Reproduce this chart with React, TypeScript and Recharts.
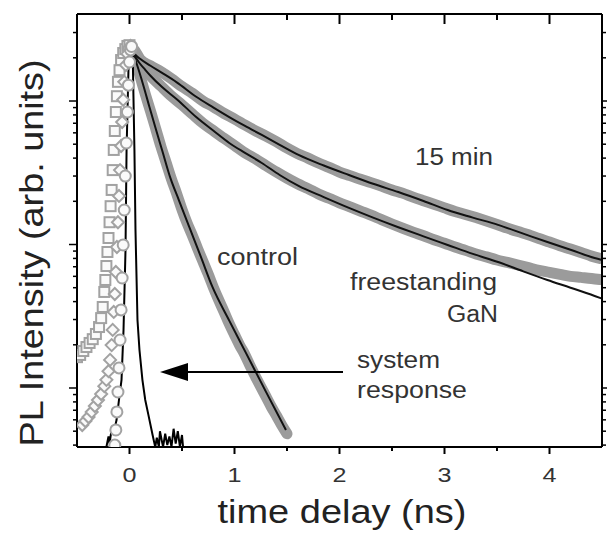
import React from 'react';
import { LineChart, Line, XAxis, YAxis } from 'recharts';

// [time (ns), PL intensity (arb.)]
const min15Data = [
  [-0.5, 1.64], [-0.47, 1.7], [-0.44, 1.81], [-0.41, 1.93], [-0.38, 2.06], [-0.35, 2.19],
  [-0.32, 2.38], [-0.29, 2.66], [-0.27, 3.07], [-0.255, 3.67], [-0.24, 4.67], [-0.23, 5.66],
  [-0.22, 7.08], [-0.21, 8.87], [-0.2, 11.1], [-0.19, 14.3], [-0.18, 18.5], [-0.17, 24],
  [-0.16, 33], [-0.15, 45.6], [-0.14, 61.8], [-0.13, 83.8], [-0.12, 108], [-0.11, 136],
  [-0.095, 164], [-0.08, 193], [-0.06, 216], [-0.04, 230], [-0.02, 242], [0, 245],
  [0.05, 225], [0.1, 196], [0.2, 176], [0.3, 160], [0.4, 143], [0.5, 126], [0.6, 113],
  [0.7, 100], [0.8, 91], [0.9, 82], [1.0, 75], [1.1, 68], [1.2, 62], [1.3, 57], [1.4, 52],
  [1.5, 47], [1.6, 43], [1.7, 40], [1.8, 37], [1.9, 34.5], [2.0, 32], [2.1, 30.2], [2.2, 28.5],
  [2.3, 27], [2.4, 25.5], [2.5, 24], [2.6, 22.8], [2.7, 21.4], [2.8, 20.2], [2.9, 19.1],
  [3.0, 18], [3.1, 17], [3.2, 16.2], [3.3, 15.4], [3.4, 14.6], [3.5, 13.8], [3.6, 13],
  [3.7, 12.3], [3.8, 11.7], [3.9, 11], [4.0, 10.4], [4.1, 9.8], [4.2, 9.3], [4.3, 8.8],
  [4.4, 8.3], [4.48, 8.0],
];

const ganData = [
  [-0.45, 0.552], [-0.42, 0.589], [-0.39, 0.628], [-0.36, 0.681], [-0.33, 0.749], [-0.3, 0.825],
  [-0.27, 0.908], [-0.24, 1.03], [-0.22, 1.14], [-0.2, 1.31], [-0.185, 1.57], [-0.17, 1.99],
  [-0.16, 2.54], [-0.15, 3.39], [-0.14, 4.52], [-0.13, 6.43], [-0.12, 9.61], [-0.11, 14.3],
  [-0.1, 21.8], [-0.09, 33], [-0.08, 48.6], [-0.07, 71.4], [-0.06, 102], [-0.05, 136],
  [-0.035, 178], [-0.02, 213], [-0.005, 234], [0.01, 242],
  [0.05, 220], [0.1, 188], [0.15, 166], [0.2, 150], [0.3, 127], [0.4, 108], [0.5, 94],
  [0.6, 81], [0.7, 70], [0.8, 62], [0.9, 55], [1.0, 49], [1.1, 43.5], [1.2, 39.5], [1.3, 35.5],
  [1.4, 32], [1.5, 29], [1.6, 26.5], [1.7, 24.5], [1.8, 22.5], [1.9, 21], [2.0, 19.5],
  [2.1, 18.3], [2.2, 17.1], [2.3, 16], [2.4, 14.9], [2.5, 13.9], [2.6, 13], [2.7, 12.2],
  [2.8, 11.5], [2.9, 10.8], [3.0, 10.2], [3.1, 9.6], [3.2, 9.1], [3.3, 8.6], [3.4, 8.2],
  [3.5, 7.8], [3.6, 7.5], [3.7, 7.2], [3.8, 6.9], [3.9, 6.6], [4.0, 6.4], [4.1, 6.2],
  [4.2, 6.0], [4.3, 5.9], [4.4, 5.8], [4.48, 5.7],
];

const controlData = [
  [-0.14, 0.4], [-0.13, 0.51], [-0.12, 0.681], [-0.11, 0.938], [-0.1, 1.38], [-0.09, 2.16],
  [-0.08, 3.5], [-0.07, 5.84], [-0.06, 9.93], [-0.05, 17.4], [-0.04, 30], [-0.03, 51],
  [-0.02, 83.8], [-0.01, 129], [0, 187], [0.01, 227], [0.02, 240],
  [0.05, 205], [0.1, 150], [0.15, 112], [0.2, 85], [0.25, 64], [0.3, 48], [0.35, 37],
  [0.4, 28.5], [0.45, 22.5], [0.5, 17.5], [0.55, 14], [0.6, 11.5], [0.65, 9.3], [0.7, 7.6],
  [0.75, 6.2], [0.8, 5.0], [0.85, 4.1], [0.9, 3.4], [0.95, 2.8], [1.0, 2.35], [1.05, 1.98],
  [1.1, 1.7], [1.15, 1.42], [1.2, 1.2], [1.25, 1.02], [1.3, 0.87], [1.35, 0.74], [1.4, 0.64],
  [1.45, 0.55], [1.5, 0.48],
];

const min15Fit = [
  [0.03, 219], [0.1, 197], [0.2, 176], [0.31, 157], [0.45, 135], [0.635, 107], [0.8, 90],
  [0.95, 77.3], [1.1, 67], [1.26, 58], [1.43, 49.5], [1.61, 42.1], [1.85, 35.5], [2.09, 30.5],
  [2.32, 26.5], [2.56, 23.2], [2.8, 20.1], [3.03, 17.4], [3.27, 15.4], [3.51, 13.7],
  [3.75, 11.9], [3.98, 10.4], [4.2, 9.2], [4.43, 8.05], [4.5, 7.8],
];

const ganFit = [
  [0.03, 219], [0.095, 184], [0.15, 165], [0.2, 150], [0.31, 125], [0.45, 103], [0.635, 77.3],
  [0.8, 62], [0.95, 51], [1.1, 43.5], [1.26, 37], [1.43, 30.5], [1.61, 25.6], [1.85, 21.4],
  [2.09, 18], [2.32, 15.4], [2.56, 13.2], [2.8, 11.4], [3.03, 9.93], [3.27, 8.6], [3.51, 7.55],
  [3.75, 6.5], [3.98, 5.66], [4.2, 5.0], [4.43, 4.38], [4.5, 4.2],
];

const controlFit = [
  [0.03, 219], [0.066, 184], [0.13, 130], [0.19, 90.8], [0.25, 64], [0.31, 45.6], [0.39, 29],
  [0.47, 20.4], [0.57, 13.2], [0.68, 8.2], [0.79, 5.06], [0.95, 2.95], [1.11, 1.75],
  [1.3, 0.94], [1.49, 0.51],
];

const systemResponse = [
  [-0.22, 0.388], [-0.2, 0.46], [-0.19, 0.41], [-0.17, 0.52], [-0.15, 0.49], [-0.123, 0.6],
  [-0.095, 0.89], [-0.076, 1.14], [-0.057, 2.53], [-0.038, 9.16], [-0.028, 45.6], [-0.01, 164],
  [0.01, 242], [0.03, 219], [0.047, 45.6], [0.057, 12.6], [0.076, 2.98], [0.095, 1.84],
  [0.123, 1.14], [0.15, 0.825], [0.18, 0.65], [0.22, 0.47], [0.245, 0.388], [0.26, 0.45],
  [0.28, 0.39], [0.29, 0.5], [0.31, 0.42], [0.32, 0.39], [0.34, 0.48], [0.36, 0.4],
  [0.38, 0.46], [0.4, 0.39], [0.42, 0.52], [0.44, 0.41], [0.46, 0.5], [0.48, 0.39],
  [0.5, 0.47], [0.51, 0.388],
];

const xTicks = [0, 0.5, 1, 1.5, 2, 2.5, 3, 3.5, 4];
const yTicks = [
  0.4, 0.5, 0.6, 0.7, 0.8, 0.9, 1, 2, 3, 4, 5, 6, 7, 8, 9,
  10, 20, 30, 40, 50, 60, 70, 80, 90, 100, 200, 300,
];

const X_DOMAIN = [-0.5, 4.5];
const Y_DOMAIN = [0.388, 404];

const FONT = "'Liberation Sans', Arial, sans-serif";
const BAND = '#9b9b9b';

const pts = (rows: number[][]) => rows.map(([t, v]) => ({ t, v }));
const decayOnly = (rows: number[][]) => pts(rows.filter(([t]) => t >= 0));
const riseOnly = (rows: number[][]) => pts(rows.filter(([t]) => t < 0.03));

const isDecade = (v: number) => Math.abs(Math.log10(v) - Math.round(Math.log10(v))) < 1e-6;

const BottomTick = ({ x, y, payload }: any) => {
  const major = Number.isInteger(payload.value);
  return (
    <g>
      <line x1={x} x2={x} y1={y} y2={y + (major ? 7 : 4)} stroke="#000" strokeWidth={2} />
      {major && (
        <text x={x} y={y + 35} textAnchor="middle" fontSize={21} fill="#333" fontFamily={FONT}
          textLength={14} lengthAdjust="spacingAndGlyphs">
          {payload.value}
        </text>
      )}
    </g>
  );
};

const TopTick = ({ x, y, payload }: any) => {
  const major = Number.isInteger(payload.value);
  return <line x1={x} x2={x} y1={y} y2={y + (major ? 10 : 6)} stroke="#000" strokeWidth={2} />;
};

const LeftTick = ({ x, y, payload }: any) => {
  const major = isDecade(payload.value);
  return <line x1={x} x2={x - (major ? 8 : 4)} y1={y} y2={y} stroke="#000" strokeWidth={1.5} />;
};

const RightTick = ({ x, y, payload }: any) => {
  const major = isDecade(payload.value);
  return <line x1={x} x2={x + (major ? 8 : 4)} y1={y} y2={y} stroke="#000" strokeWidth={1.5} />;
};

// open symbols on the rising edge
const Marker = ({ cx, cy, kind }: any) => {
  if (cx == null || cy == null) return null;
  const common = { fill: '#fafafa', stroke: '#a2a2a2', strokeWidth: 2 };
  if (kind === 'square') return <rect x={cx - 5} y={cy - 5} width={10} height={10} {...common} />;
  if (kind === 'diamond')
    return <polygon points={`${cx},${cy - 6} ${cx + 6},${cy} ${cx},${cy + 6} ${cx - 6},${cy}`} {...common} />;
  return <circle cx={cx} cy={cy} r={5.5} {...common} />;
};

const measured = [
  { name: '15 min', rows: min15Data, kind: 'square' },
  { name: 'freestanding GaN', rows: ganData, kind: 'diamond' },
  { name: 'control', rows: controlData, kind: 'circle' },
];

const fits = [
  { name: '15 min fit', rows: min15Fit },
  { name: 'GaN fit', rows: ganFit },
  { name: 'control fit', rows: controlFit },
];

const axisLine = { stroke: '#000', strokeWidth: 2 };

export default function App() {
  return (
    <div style={{ position: 'absolute', left: 0, top: 0, width: 607, height: 537, background: '#fff' }}>
      <LineChart width={607} height={537} margin={{ top: 4, right: 0, bottom: 40, left: 67 }}>
        <XAxis xAxisId="b" dataKey="t" type="number" domain={X_DOMAIN} ticks={xTicks} interval={0}
          height={50} tickSize={0} tickMargin={0} tickLine={false} axisLine={axisLine}
          tick={(p: any) => <BottomTick {...p} />} allowDataOverflow />
        <XAxis xAxisId="t" orientation="top" dataKey="t" type="number" domain={X_DOMAIN} ticks={xTicks}
          interval={0} height={10} tickSize={0} tickMargin={0} tickLine={false} axisLine={axisLine}
          tick={(p: any) => <TopTick {...p} />} allowDataOverflow />
        <YAxis yAxisId="l" scale="log" type="number" domain={Y_DOMAIN} ticks={yTicks} interval={0}
          width={10} tickSize={0} tickMargin={0} tickLine={false} axisLine={axisLine}
          tick={(p: any) => <LeftTick {...p} />} allowDataOverflow />
        <YAxis yAxisId="r" orientation="right" scale="log" type="number" domain={Y_DOMAIN} ticks={yTicks}
          interval={0} width={5} tickSize={0} tickMargin={0} tickLine={false} axisLine={axisLine}
          tick={(p: any) => <RightTick {...p} />} allowDataOverflow />

        {measured.map((s) => (
          <Line key={`pts-${s.name}`} xAxisId="b" yAxisId="l" data={riseOnly(s.rows)} dataKey="v"
            stroke="none" isAnimationActive={false}
            dot={(p: any) => <Marker key={`${s.name}-${p.index}`} cx={p.cx} cy={p.cy} kind={s.kind} />} />
        ))}
        {measured.map((s) => (
          <Line key={`band-${s.name}`} xAxisId="b" yAxisId="l" data={decayOnly(s.rows)} dataKey="v"
            type="monotone" stroke={BAND} strokeWidth={11} strokeLinecap="round" dot={false}
            isAnimationActive={false} />
        ))}
        {fits.map((s) => (
          <Line key={s.name} xAxisId="b" yAxisId="l" data={pts(s.rows)} dataKey="v" type="monotone"
            stroke="#111" strokeWidth={2} dot={false} isAnimationActive={false} />
        ))}
        <Line xAxisId="b" yAxisId="l" data={pts(systemResponse)} dataKey="v" type="linear"
          stroke="#000" strokeWidth={2} dot={false} isAnimationActive={false} />
      </LineChart>

      <svg width={607} height={537} style={{ position: 'absolute', left: 0, top: 0, pointerEvents: 'none' }}
        fontFamily={FONT}>
        <text x={342} y={523} textAnchor="middle" fontSize={33} fill="#222" textLength={249}
          lengthAdjust="spacingAndGlyphs">time delay (ns)</text>
        <text x={43} y={253} textAnchor="middle" fontSize={33} fill="#222" textLength={387}
          lengthAdjust="spacingAndGlyphs" transform="rotate(-90, 43, 253)">PL Intensity (arb. units)</text>

        <text x={415} y={165} fontSize={23} fill="#333" textLength={78} lengthAdjust="spacingAndGlyphs">15 min</text>
        <text x={217} y={265} fontSize={23} fill="#333" textLength={81} lengthAdjust="spacingAndGlyphs">control</text>
        <text x={350} y={290} fontSize={23} fill="#333" textLength={147} lengthAdjust="spacingAndGlyphs">freestanding</text>
        <text x={447} y={322} fontSize={23} fill="#333" textLength={51} lengthAdjust="spacingAndGlyphs">GaN</text>
        <text x={357} y={368} fontSize={23} fill="#333" textLength={83} lengthAdjust="spacingAndGlyphs">system</text>
        <text x={357} y={398} fontSize={23} fill="#333" textLength={110} lengthAdjust="spacingAndGlyphs">response</text>

        <line x1={185} y1={372} x2={343} y2={372} stroke="#000" strokeWidth={2} />
        <polygon points="160,372 188,363 188,381" fill="#000" />
      </svg>
    </div>
  );
}
